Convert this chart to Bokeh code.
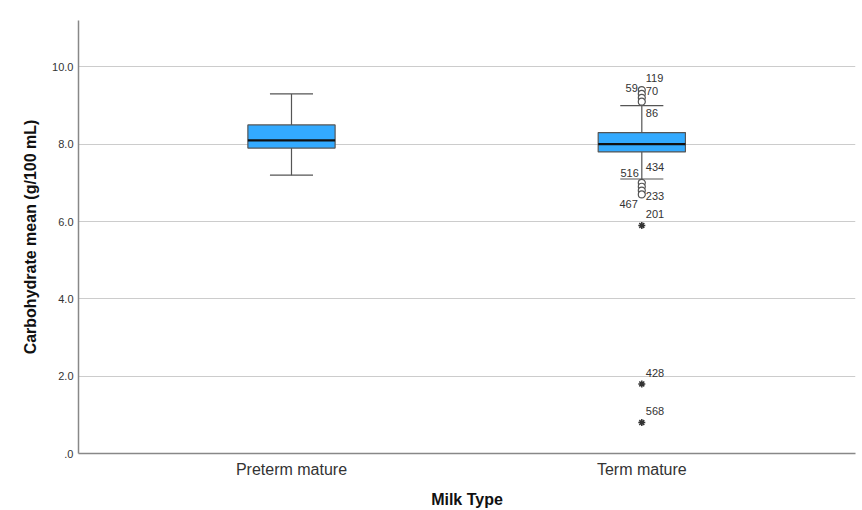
from bokeh.plotting import figure
from bokeh.models import ColumnDataSource, FixedTicker, Range1d
from bokeh.embed import file_html
from bokeh.resources import INLINE
from bokeh.core.properties import value

# ---- data ----
categories = ["Preterm mature", "Term mature"]
q1 = [7.9, 7.8]
median = [8.1, 8.0]
q3 = [8.5, 8.3]
whisker_low = [7.2, 7.1]
whisker_high = [9.3, 9.0]

# outliers (Term mature)
circle_values = [9.4, 9.3, 9.2, 9.1, 7.0, 6.9, 6.8, 6.7]
star_values = [5.9, 1.8, 0.8]

# case labels: text, anchor value
label_text = ["119", "59", "70", "86", "434", "516", "233", "467", "201", "428", "568"]
label_value = [9.4, 9.3, 9.3, 9.1, 7.0, 7.0, 6.7, 6.7, 5.9, 1.8, 0.8]
# style: pixel offsets and alignment for labels
label_dx = [4, -4, 4, 4, 4, -3, 4, -4, 4, 4, 4]
label_dy = [-12, -6, -3, 11, -16, -10, 2, 10, -11, -11, -12]
label_align = ["left", "right", "left", "left", "left", "right", "left", "right", "left", "left", "left"]

FONT = "Liberation Sans"
BOX_W = 0.249
CAP_W = 0.123

xs = [1, 2]

p = figure(width=858, height=510, output_backend="svg", toolbar_location=None,
           x_range=Range1d(0.392, 2.61), y_range=Range1d(0, 11.2),
           min_border_left=78, min_border_right=3, min_border_top=20, min_border_bottom=50)
p.outline_line_color = None
p.background_fill_color = "white"

# grid
p.xgrid.grid_line_color = None
p.ygrid.grid_line_color = "#cccccc"
p.ygrid.grid_line_width = 1
p.yaxis.ticker = FixedTicker(ticks=[0, 2, 4, 6, 8, 10])
p.yaxis.major_label_overrides = {0: ".0", 2: "2.0", 4: "4.0", 6: "6.0", 8: "8.0", 10: "10.0"}
p.xaxis.ticker = FixedTicker(ticks=xs)
p.xaxis.major_label_overrides = {1: categories[0], 2: categories[1]}

for ax in (p.xaxis, p.yaxis):
    ax.axis_line_color = "#888888"
    ax.axis_line_width = 1.5
    ax.major_tick_line_color = None
    ax.minor_tick_line_color = None
    ax.major_tick_out = 0
    ax.major_tick_in = 0
    ax.minor_tick_out = 0
    ax.minor_tick_in = 0
    ax.major_label_text_font = FONT
    ax.major_label_text_color = "#333333"
    ax.axis_label_text_font = FONT
    ax.axis_label_text_font_style = "bold"
    ax.axis_label_text_color = "#111111"
    ax.axis_label_text_font_size = "16px"

p.yaxis.major_label_text_font_size = "11px"
p.yaxis.major_label_standoff = 5
p.yaxis.axis_label = "Carbohydrate mean (g/100 mL)"
p.yaxis.axis_label_standoff = 10
p.xaxis.major_label_text_font_size = "16px"
p.xaxis.major_label_standoff = 7
p.xaxis.axis_label = "Milk Type"
p.xaxis.axis_label_standoff = 10

# whiskers
src = ColumnDataSource(dict(x=xs, q1=q1, q3=q3, med=median, lo=whisker_low, hi=whisker_high))
p.segment(x0="x", y0="q3", x1="x", y1="hi", source=src, line_color="#555555", line_width=1.2)
p.segment(x0="x", y0="lo", x1="x", y1="q1", source=src, line_color="#555555", line_width=1.2)
cap_x0 = [x - CAP_W / 2 for x in xs]
cap_x1 = [x + CAP_W / 2 for x in xs]
p.segment(x0=cap_x0, y0=whisker_high, x1=cap_x1, y1=whisker_high, line_color="#555555", line_width=1.2)
p.segment(x0=cap_x0, y0=whisker_low, x1=cap_x1, y1=whisker_low, line_color="#555555", line_width=1.2)

# boxes
p.vbar(x="x", bottom="q1", top="q3", width=BOX_W, source=src,
       fill_color="#33aaff", line_color="#555555", line_width=1.2)
p.segment(x0=[x - BOX_W / 2 for x in xs], y0=median, x1=[x + BOX_W / 2 for x in xs], y1=median,
          line_color="#111111", line_width=2.2)

# outliers
p.scatter(x=[2] * len(circle_values), y=circle_values, marker="circle", size=7,
          fill_color="white", line_color="#555555", line_width=1.2)
p.scatter(x=[2] * len(star_values), y=star_values, marker="asterisk", size=7,
          line_color="#333333", line_width=1.5)

# labels
lsrc = ColumnDataSource(dict(x=[2] * len(label_text), y=label_value, t=label_text,
                             dx=label_dx, dy=label_dy, al=label_align))
p.text(x="x", y="y", text="t", x_offset="dx", y_offset="dy", text_align="al",
       text_baseline="middle", source=lsrc, text_font=value(FONT),
       text_font_size="11px", text_color="#333333")

open("out.html", "w").write(file_html(p, INLINE))
